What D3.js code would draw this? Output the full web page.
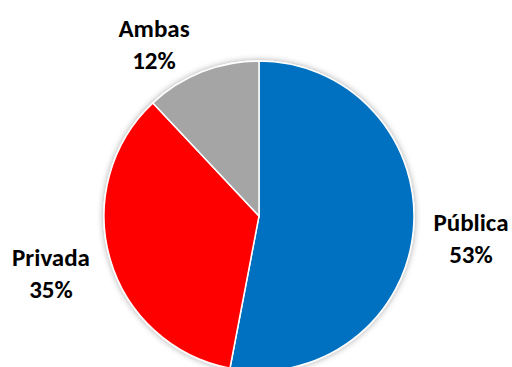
<!DOCTYPE html>
<html>
<head>
<meta charset="utf-8">
<script src="https://cdn.jsdelivr.net/npm/d3@7"></script>
<style>
  body { margin: 0; background: #fff; }
  text { font-family: Carlito, Lato, "Open Sans", sans-serif; font-weight: bold; }
</style>
</head>
<body>
<div id="chart"></div>
<script>
var categories = ["Pública", "Privada", "Ambas"];
var values = [53, 35, 12];
var colors = ["#0070C0", "#FF0000", "#A5A5A5"];
var labelPos = [[471, 231], [51, 266], [154, 37]];

var width = 512, height = 367;
var cx = 259, cy = 216, radius = 155;

var svg = d3.select("#chart")
    .append("svg")
    .attr("width", width)
    .attr("height", height);

// soft shadow around the pie
var filter = svg.append("defs").append("filter")
    .attr("id", "shadow")
    .attr("x", "-20%").attr("y", "-20%")
    .attr("width", "140%").attr("height", "140%");
filter.append("feDropShadow")
    .attr("dx", 0).attr("dy", 0)
    .attr("stdDeviation", 3)
    .attr("flood-color", "#000")
    .attr("flood-opacity", 0.35);

var pie = d3.pie().sort(null).value(d => d);
var arc = d3.arc().innerRadius(0).outerRadius(radius);

var g = svg.append("g")
    .attr("transform", `translate(${cx},${cy})`);

g.append("g")
    .attr("filter", "url(#shadow)")
    .selectAll("path")
    .data(pie(values))
    .enter()
    .append("path")
    .attr("d", arc)
    .attr("fill", (d, i) => colors[i])
    .attr("stroke", "#fff")
    .attr("stroke-width", 1.5);

// labels
var labels = svg.selectAll(".label")
    .data(categories)
    .enter()
    .append("text")
    .attr("class", "label")
    .attr("text-anchor", "middle")
    .attr("font-size", "25px")
    .attr("fill", "#000");

labels.append("tspan")
    .attr("x", (d, i) => labelPos[i][0])
    .attr("y", (d, i) => labelPos[i][1])
    .text(d => d);

labels.append("tspan")
    .attr("x", (d, i) => labelPos[i][0])
    .attr("y", (d, i) => labelPos[i][1] + 32)
    .text((d, i) => values[i] + "%");
</script>
</body>
</html>
